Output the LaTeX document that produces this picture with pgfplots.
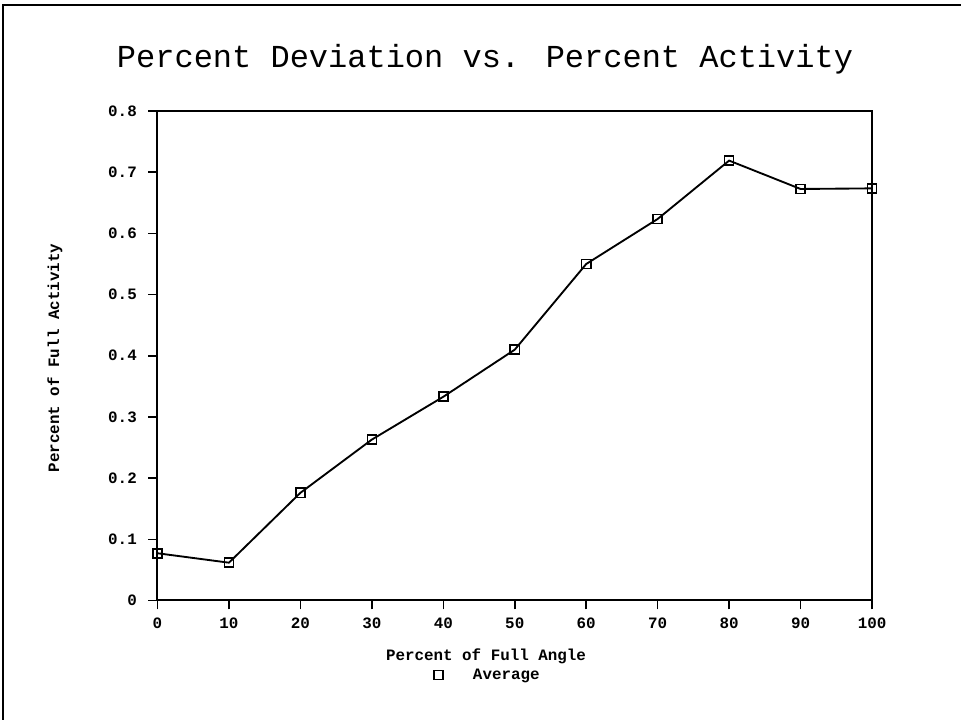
\documentclass[border=0pt]{standalone}
\usepackage{pgfplots}
\pgfplotsset{compat=1.18}
\usepackage{fontspec}
\setmainfont{Liberation Mono}
\newfontfamily\mono{Liberation Mono}
\newcommand{\lab}{\mono\bfseries\fontsize{11.9}{14}\selectfont}
\newcommand{\ttl}{\mono\fontsize{24}{28}\selectfont}
\begin{document}
\begin{tikzpicture}
\path[use as bounding box] (0,0) rectangle (720.75pt,540pt);
\draw[line width=1.5pt] (2.25pt,0pt) -- (2.25pt,536.25pt) -- (720.75pt,536.25pt);
\begin{axis}[
  at={(118.125pt,89.625pt)}, anchor=south west,
  scale only axis, width=535.9pt, height=367.1pt,
  xmin=0, xmax=100, ymin=0, ymax=0.8,
  xtick={0,10,20,30,40,50,60,70,80,90,100},
  ytick={0,0.1,0.2,0.3,0.4,0.5,0.6,0.7,0.8},
  tick pos=left, tick align=outside, major tick length=6.75pt,
  axis line style={line width=1.5pt},
  every tick/.style={line width=1.2pt, black},
  /pgf/number format/assume math mode=true,
  yticklabel style={/pgf/number format/fixed, /pgf/number format/precision=1, xshift=-5.25pt},
  xticklabel style={yshift=-3pt},
  tick label style={font=\lab},
  title={Percent Deviation vs. Percent Activity},
  title style={font=\ttl, at={(axis description cs:0.4584,1.09)}, anchor=center},
  xlabel={Percent of Full Angle},
  xlabel style={font=\lab, at={(axis description cs:0.4598,-0.1134)}, anchor=center},
  ylabel={Percent of Full Activity},
  ylabel style={font=\lab, at={(axis description cs:-0.1435,0.4954)}, anchor=center},
  legend style={at={(axis description cs:0.4626,-0.1522)}, anchor=center, draw=none, fill=none, font=\lab},
  legend image code/.code={\path[draw=none] (-3.4pt,0pt) -- (24pt,0pt); \draw[mark=square, mark size=3.4pt, line width=1.2pt, mark options={solid}] plot coordinates {(0pt,0pt)};},
]
\addplot[black, line width=1.4pt, mark=square, mark size=3.4pt, mark options={line width=1.2pt}] coordinates {
  (0,0.0772) (10,0.0618) (20,0.176) (30,0.263) (40,0.333)
  (50,0.410) (60,0.550) (70,0.6236) (80,0.719) (90,0.6726) (100,0.6736)
};
\addlegendentry{Average}
\end{axis}
\end{tikzpicture}
\end{document}
